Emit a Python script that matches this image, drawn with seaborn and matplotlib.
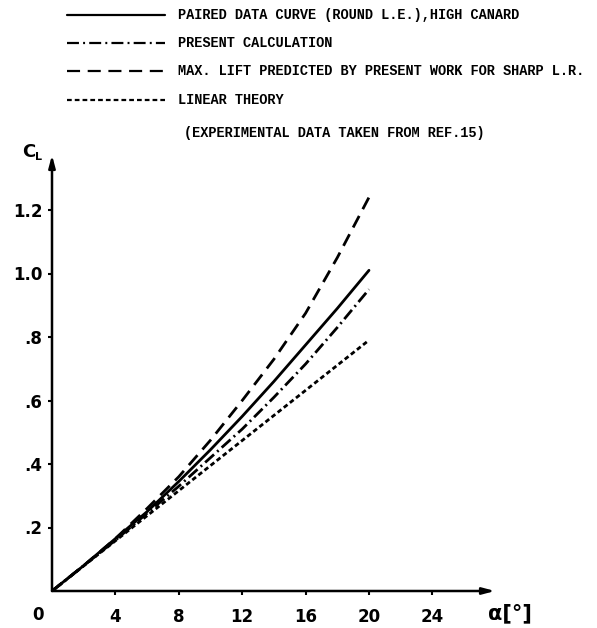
import numpy as np
import pandas as pd
import matplotlib
matplotlib.use("Agg")
import matplotlib.pyplot as plt
import seaborn as sns

# ---- data ----
alpha = [0, 2, 4, 6, 8, 10, 12, 14, 16, 18, 20]
cl_paired = [0, 0.08, 0.165, 0.25, 0.345, 0.445, 0.55, 0.66, 0.775, 0.89, 1.01]
cl_present = [0, 0.08, 0.16, 0.245, 0.33, 0.42, 0.51, 0.61, 0.715, 0.83, 0.95]
cl_maxlift = [0, 0.08, 0.165, 0.26, 0.36, 0.475, 0.60, 0.73, 0.875, 1.05, 1.24]
cl_linear = [0, 0.079, 0.158, 0.237, 0.316, 0.395, 0.474, 0.553, 0.632, 0.711, 0.79]

series_names = [
    "PAIRED DATA CURVE (ROUND L.E.),HIGH CANARD",
    "PRESENT CALCULATION",
    "MAX. LIFT PREDICTED BY PRESENT WORK FOR SHARP L.R.",
    "LINEAR THEORY",
]
note_text = "(EXPERIMENTAL DATA TAKEN FROM REF.15)"
x_ticks = [4, 8, 12, 16, 20, 24]
y_ticks = [0.2, 0.4, 0.6, 0.8, 1.0, 1.2]
y_ticklabels = [".2", ".4", ".6", ".8", "1.0", "1.2"]

sns.set_theme(style="white")
plt.rcParams["lines.scale_dashes"] = False
plt.rcParams["font.family"] = ["DejaVu Sans"]
for k in ["text.color", "axes.labelcolor", "xtick.color", "ytick.color"]:
    plt.rcParams[k] = "black"

W, H = 597, 628
fig = plt.figure(figsize=(W / 100, H / 100), dpi=100)

def px(x, y):
    return x / W, 1 - y / H

ox, oy = 52, 591          # origin in pixels
xend, ytop = 495, 155     # arrow tips
ppx, ppy = 15.85, 317.5   # pixels per unit
ax = fig.add_axes([ox / W, (H - oy) / H, (xend - ox) / W, (oy - ytop) / H])
ax.set_xlim(0, (xend - ox) / ppx)
ax.set_ylim(0, (oy - ytop) / ppy)

df = pd.concat([
    pd.DataFrame({"alpha": alpha, "CL": vals, "series": name})
    for name, vals in zip(series_names, [cl_paired, cl_present, cl_maxlift, cl_linear])
])
dash_map = {
    series_names[0]: "",
    series_names[1]: (8.6, 3.0, 1.4, 3.0),
    series_names[2]: (9.4, 5.5),
    series_names[3]: (3.4, 2.2),
}
sns.lineplot(data=df, x="alpha", y="CL", style="series", dashes=dash_map,
             color="black", linewidth=2.0, legend=False, ax=ax, sort=False)

for s in ax.spines.values():
    s.set_visible(False)
ax.set_xlabel("")
ax.set_ylabel("")

# axes as arrows
arrow_kw = dict(arrowstyle="-|>,head_length=0.6,head_width=0.16", color="black",
                lw=1.8, shrinkA=0, shrinkB=0)
ax.annotate("", xy=(1, 0), xytext=(0, 0), xycoords="axes fraction",
            textcoords="axes fraction", arrowprops=arrow_kw, annotation_clip=False)
ax.annotate("", xy=(0, 1), xytext=(0, 0), xycoords="axes fraction",
            textcoords="axes fraction", arrowprops=arrow_kw, annotation_clip=False)

ax.set_xticks(x_ticks)
ax.set_xticklabels([str(t) for t in x_ticks], fontsize=12, fontweight="bold")
ax.set_yticks(y_ticks)
ax.set_yticklabels(y_ticklabels, fontsize=12, fontweight="bold")
ax.tick_params(axis="x", direction="out", length=3, width=1.5, color="black", pad=9)
ax.tick_params(axis="y", direction="out", length=3, width=1.5, color="black", pad=4)
ax.tick_params(bottom=True, left=True)

fig.text(*px(38, 615), "0", fontsize=12, fontweight="bold", ha="center", va="center")
fig.text(*px(510, 613), "α[°]", fontsize=15, fontweight="bold", ha="center", va="center")
fig.text(*px(22, 152), "C", fontsize=13, fontweight="bold", ha="left", va="center")
fig.text(*px(35, 157), "L", fontsize=8, fontweight="bold", ha="left", va="center")

# legend drawn as a key at the top
mono = ["Liberation Mono", "DejaVu Sans Mono"]
rows_y = [15, 43, 71, 100]
for name, y in zip(series_names, rows_y):
    x0, y0 = px(67, y)
    x1, _ = px(165, y)
    ln = matplotlib.lines.Line2D([x0, x1], [y0, y0], transform=fig.transFigure,
                                 color="black", linewidth=1.6)
    if dash_map[name]:
        ln.set_dashes(dash_map[name])
    fig.add_artist(ln)
    fig.text(*px(178, y), name, fontsize=9.8, fontweight="bold",
             family=mono, ha="left", va="center")
fig.text(*px(184, 133), note_text, fontsize=9.8, fontweight="bold",
         family=mono, ha="left", va="center")

fig.savefig("out.png", dpi=100)
